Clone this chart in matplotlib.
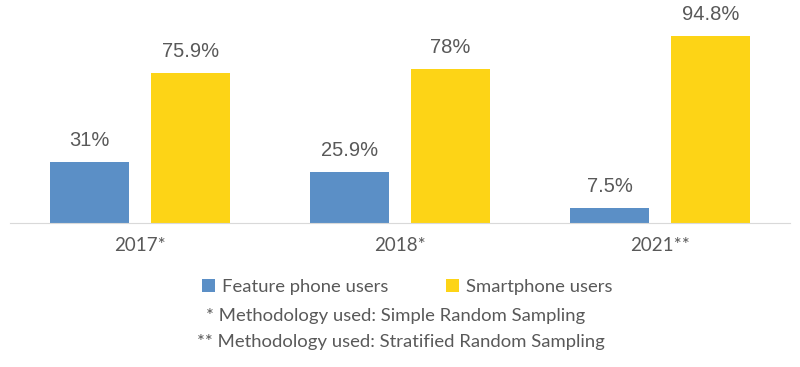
import matplotlib.pyplot as plt
import numpy as np

years = ['2017*', '2018*', '2021**']
feature = [31, 25.9, 7.5]
smart = [75.9, 78, 94.8]
feature_lbl = ['31%', '25.9%', '7.5%']
smart_lbl = ['75.9%', '78%', '94.8%']

blue = '#5B8FC6'
yellow = '#FDD416'
grey = '#595959'

fig = plt.figure(figsize=(8, 3.67), dpi=100)
ax = fig.add_axes([0.0125, 0.392, 0.975, 0.538])

x = np.arange(len(years))
w = 0.304
off = 0.194
b1 = ax.bar(x - off, feature, w, color=blue, label='Feature phone users')
b2 = ax.bar(x + off, smart, w, color=yellow, label='Smartphone users')

for bars, lbls in [(b1, feature_lbl), (b2, smart_lbl)]:
    for r, t in zip(bars, lbls):
        ax.text(r.get_x() + r.get_width() / 2, r.get_height() + 6, t,
                ha='center', va='bottom', fontsize=14.5, color=grey,
                family='Liberation Sans')

ax.set_xlim(-0.5, 2.5)
ax.set_ylim(0, 100)
ax.set_yticks([])
for s in ['top', 'right', 'left']:
    ax.spines[s].set_visible(False)
ax.spines['bottom'].set_color('#D9D9D9')
ax.set_xticks(x)
ax.set_xticklabels(years, fontsize=13.5, color=grey, family='Lato')
ax.tick_params(axis='x', length=0, pad=10)

leg = fig.legend(loc='center', bbox_to_anchor=(0.509, 0.218), ncol=2, frameon=False,
                 prop={'family': 'Lato', 'size': 13.3}, handlelength=0.7,
                 handleheight=0.7, handletextpad=0.4, columnspacing=3.1)
for t in leg.get_texts():
    t.set_color(grey)

fig.text(0.495, 0.139, '* Methodology used: Simple Random Sampling', ha='center',
         va='center', fontsize=13.3, color=grey, family='Lato')
fig.text(0.501, 0.068, '** Methodology used: Stratified Random Sampling', ha='center',
         va='center', fontsize=13.3, color=grey, family='Lato')

fig.savefig('out.png', dpi=100)
